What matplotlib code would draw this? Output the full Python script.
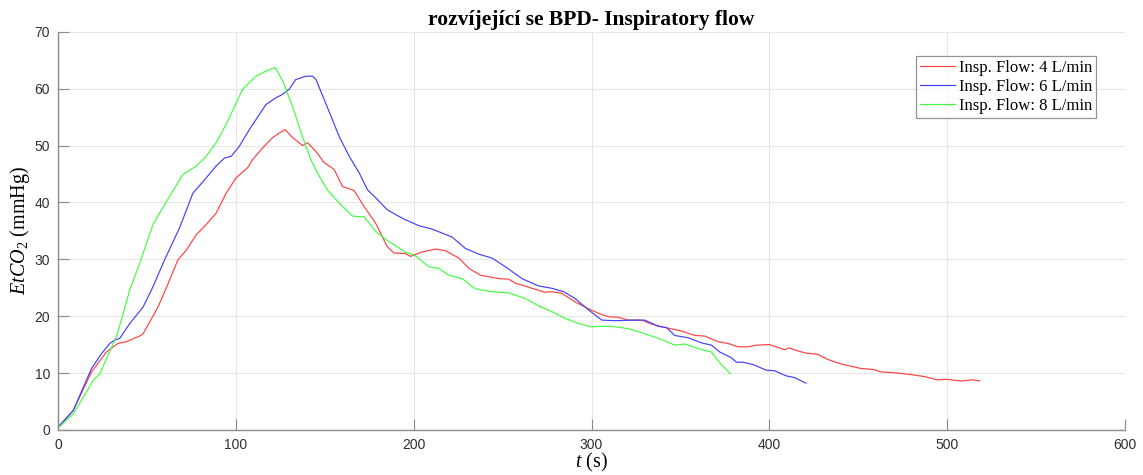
import matplotlib.pyplot as plt
import numpy as np

plt.rcParams['mathtext.fontset'] = 'custom'
plt.rcParams['mathtext.rm'] = 'Liberation Serif'
plt.rcParams['mathtext.it'] = 'Liberation Serif:italic'

# Insp. flow 4 L/min
t4 = [0, 8.4, 18.7, 27.1, 33.6, 38.3, 45.8, 47.7, 56.1, 60.7, 67.3, 72, 77.6, 83.2, 88.8, 94.4,
      100, 106.5, 109.3, 115, 120.6, 124.3, 127.7, 131.8, 137.4, 140.2, 144.9, 149.6, 155.2, 159.9,
      166.4, 172.0, 178.6, 185.1, 188.9, 195.4, 198.2, 204.8, 212.3, 217.9, 225.4, 231, 237.5, 247.8,
      253.4, 257.2, 266.5, 274.0, 277.7, 283.3, 290.8, 298.3, 303.9, 309.5, 315.1, 320.7, 328.2, 333.8,
      341.3, 350.6, 358.1, 363.7, 371.2, 376.8, 382.4, 388.0, 392.6, 400.1, 403.9, 408.5, 411.3, 416.0,
      420.7, 427.2, 432.8, 440.3, 445.9, 451.5, 459, 462.7, 472.1, 477.7, 487.0, 494.5, 500.1, 507.6,
      511.4, 514.2, 518.5]
e4 = [0.5, 3.4, 10.2, 13.7, 15.2, 15.5, 16.5, 16.9, 21.6, 24.9, 29.9, 31.6, 34.3, 36.1, 38.1, 41.6,
      44.3, 46.1, 47.5, 49.6, 51.4, 52.2, 52.8, 51.4, 50.0, 50.5, 49.0, 47.0, 45.8, 42.8,
      42.1, 39.3, 36.3, 32.2, 31.1, 31.0, 30.5, 31.3, 31.8, 31.5, 30.2, 28.4, 27.2, 26.6,
      26.5, 25.8, 24.9, 24.2, 24.3, 24.0, 22.5, 21.3, 20.5, 19.9, 19.8, 19.3, 19.3, 18.6,
      18.0, 17.4, 16.6, 16.5, 15.5, 15.2, 14.6, 14.6, 14.9, 15.0, 14.6, 14.1, 14.4, 13.9,
      13.5, 13.3, 12.4, 11.6, 11.2, 10.8, 10.6, 10.2, 10.0, 9.8, 9.4, 8.8, 8.9, 8.6,
      8.7, 8.8, 8.6]

# Insp. flow 6 L/min
t6 = [0, 8.4, 18.7, 24.3, 29.0, 31.8, 34.6, 40.2, 47.7, 53.3, 59.8, 68.2, 75.7, 83.2, 88.8, 93.5,
      97.2, 101.9, 107.5, 116.8, 122.4, 126.2, 129.9, 133.6, 139.3, 143.1, 145, 153.4, 158.0, 163.7,
      169.3, 174.0, 178.6, 185.1, 193.6, 202.9, 210.4, 221.6, 229.1, 236.6, 244.1, 251.5, 260.9, 270.3,
      277.7, 284.3, 290.8, 298.3, 305.8, 313.3, 322.6, 330.1, 337.6, 342.2, 346.9, 354.4, 361.9, 367.5,
      372.1, 378.6, 381.5, 385.2, 390.8, 398.3, 403.0, 409.5, 414.2, 420.7]
e6 = [0.5, 3.4, 10.8, 13.4, 15.2, 15.8, 16.1, 18.7, 21.6, 25.2, 29.9, 35.5, 41.6, 44.3, 46.4, 47.8,
      48.1, 49.9, 52.8, 57.2, 58.4, 59.0, 59.9, 61.6, 62.2, 62.2, 61.6, 55.2, 51.6, 48.1,
      45.2, 42.2, 40.8, 38.7, 37.2, 35.9, 35.3, 33.9, 31.9, 30.9, 30.2, 28.7, 26.6, 25.3,
      24.9, 24.3, 23.1, 21.1, 19.3, 19.2, 19.3, 19.3, 18.2, 18.0, 16.6, 16.2, 15.3, 14.9,
      13.7, 12.7, 11.9, 11.9, 11.5, 10.5, 10.4, 9.5, 9.2, 8.2]

# Insp. flow 8 L/min
t8 = [0, 8.4, 19.6, 23.4, 27.1, 32.7, 35.5, 40.2, 45.8, 53.3, 59.8, 70.1, 77.6, 83.2, 88.8, 94.4,
      103.7, 111.2, 116.8, 122.1, 126.2, 131.8, 137.4, 142.1, 145.8, 151.4, 158.0, 165.5, 169.3, 172,
      178.6, 185.1, 190.8, 195.4, 200.1, 208.5, 214.1, 219.7, 227.2, 234.7, 244.1, 253.4, 262.8, 270.3,
      277.7, 285.2, 292.7, 300.2, 303.9, 311.4, 320.7, 330.1, 337.6, 346.9, 352.5, 360.0, 367.4, 373.0,
      378.1]
e8 = [0.35, 2.8, 8.7, 9.9, 12.5, 16.4, 19.3, 24.6, 29.3, 36.1, 39.6, 44.9, 46.4, 48.1, 50.5, 53.7,
      59.9, 62.2, 63.1, 63.7, 61.4, 56.9, 51.6, 47.5, 45.2, 42.2, 39.9, 37.6, 37.5, 37.5,
      34.9, 33.3, 32.2, 31.2, 30.8, 28.7, 28.4, 27.2, 26.6, 24.8, 24.3, 24.1, 23.1, 21.8,
      20.8, 19.6, 18.7, 18.1, 18.2, 18.2, 17.8, 16.9, 16.1, 14.9, 15.1, 14.3, 13.7, 11.5,
      9.9]

labels = ['Insp. Flow: 4 L/min', 'Insp. Flow: 6 L/min', 'Insp. Flow: 8 L/min']
x_ticks = np.arange(0, 601, 100)
y_ticks = np.arange(0, 71, 10)

fig = plt.figure(figsize=(11.43, 4.75), dpi=100)
ax = fig.add_axes([0.051, 0.095, 0.933, 0.838])

ax.plot(t4, e4, color='#ff4040', lw=0.85, label=labels[0])
ax.plot(t6, e6, color='#4040ff', lw=0.85, label=labels[1])
ax.plot(t8, e8, color='#40ff40', lw=0.85, label=labels[2])

ax.set_xlim(0, 600)
ax.set_ylim(0, 70)
ax.set_xticks(x_ticks)
ax.set_yticks(y_ticks)
ax.grid(True, color='#e6e6e6', lw=0.8)
ax.set_axisbelow(True)

axcol = '#8c8c8c'
for s in ['top', 'right']:
    ax.spines[s].set_visible(False)
for s in ['bottom', 'left']:
    ax.spines[s].set_color(axcol)
    ax.spines[s].set_linewidth(1.0)
ax.tick_params(direction='in', length=8, width=0.8, color=axcol, labelcolor='#303030',
               labelsize=10, pad=6)
for lab in ax.get_xticklabels() + ax.get_yticklabels():
    lab.set_fontfamily('Liberation Sans')

ax.set_title('rozvíjející se BPD- Inspiratory flow', fontfamily='Liberation Serif',
             fontweight='bold', fontsize=15.5, pad=5)
ax.set_xlabel(r'$t$ (s)', fontfamily='Liberation Serif', fontsize=14.5, labelpad=-1)
ax.set_ylabel(r'$EtCO_\mathit{2}$ (mmHg)', fontfamily='Liberation Serif', fontsize=14.5, labelpad=2)

leg = ax.legend(loc='upper right', bbox_to_anchor=(0.973, 0.94), prop={'family': 'Liberation Serif', 'size': 12},
                frameon=True, fancybox=False, handlelength=2.1, handletextpad=0.2,
                borderpad=0.25, labelspacing=0.18, borderaxespad=0)
leg.get_frame().set_edgecolor('#7a7a7a')
leg.get_frame().set_linewidth(0.9)

fig.savefig('out.png', dpi=100)
